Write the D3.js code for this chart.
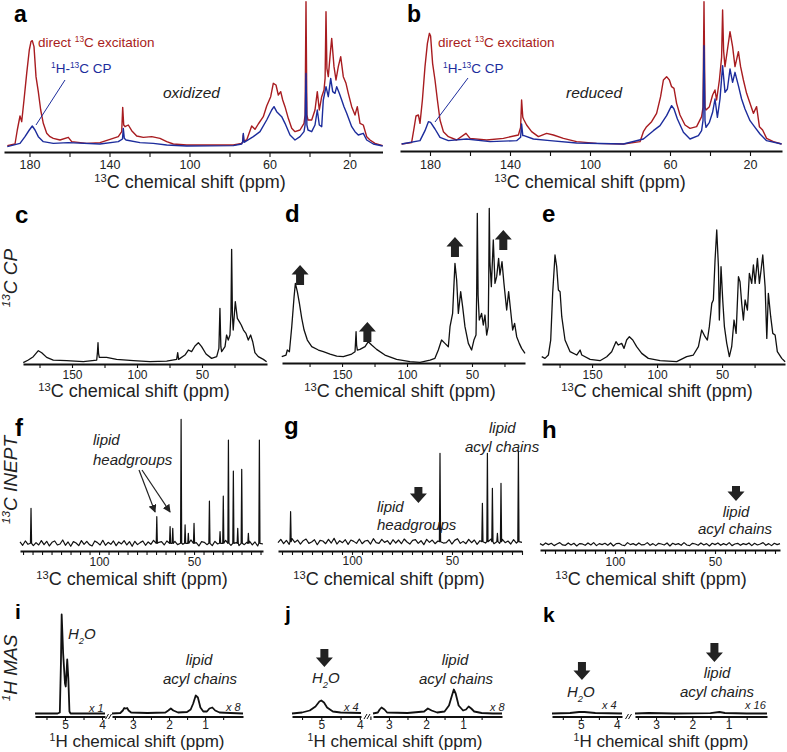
<!DOCTYPE html>
<html><head><meta charset="utf-8">
<script src="https://cdn.jsdelivr.net/npm/d3@7"></script>
<style>body{margin:0;background:#fff}svg{display:block}</style>
</head><body>
<svg id="chart" width="787" height="752"></svg>
<script>
// ===== DATA (ppm, intensity a.u.) =====
const redA = [[191.1,-2],[187.25,3],[186.1,45],[184.75,87],[183.9,70],[182.75,135],[181.4,215],[180.1,285],[179.25,310],[178.6,313],[177.75,295],[176.75,205],[175.6,160],[174.4,105],[173.1,65],[171.4,35],[169.75,25],[168.1,20],[164.75,15],[160.6,23],[158.9,10],[151.4,5],[144.75,7],[139.75,17],[135.6,25],[133.9,40],[133.4,113],[132.9,60],[132.25,55],[130.6,60],[128.9,43],[126.4,27],[123.1,23],[118.9,25],[114.75,20],[111.4,10],[108.1,3],[101.4,0],[78.1,0],[73.9,5],[73.4,10],[73.1,30],[72.8,12],[71.4,15],[68.9,57],[67.25,47],[65.6,63],[63.1,85],[61.4,117],[59.4,145],[58.1,185],[56.75,180],[55.6,150],[54.4,160],[53.4,135],[52.25,115],[50.6,80],[48.9,50],[47.25,40],[44.75,45],[42.75,65],[42.2,90],[41.75,430],[41.3,90],[40.75,75],[38.9,75],[37.25,105],[36.1,160],[35.1,105],[33.9,145],[32.75,165],[32.2,200],[31.75,400],[31.3,230],[30.6,205],[29.75,265],[28.9,320],[27.75,235],[26.75,195],[25.6,235],[24.4,265],[23.1,205],[21.75,185],[20.6,155],[18.9,115],[17.25,90],[16.1,115],[14.75,65],[13.1,60],[11.4,25],[9.75,15],[7.25,5],[3.4,-2]];
const blueA = [[191.1,-5],[184.75,5],[182.25,25],[180.1,45],[178.6,57],[177.25,45],[175.6,25],[173.1,10],[168.1,5],[160.6,7],[144.75,3],[135.6,10],[133.5,18],[133.1,50],[132.6,20],[131.75,15],[124.75,7],[118.1,5],[111.4,0],[101.4,-3],[78.1,-2],[73.9,3],[73.4,10],[73.1,35],[72.7,8],[68.1,25],[64.75,40],[61.4,75],[58.9,105],[57.75,115],[56.4,100],[53.9,85],[52.25,65],[49.75,30],[47.25,15],[44.75,25],[42.75,40],[42.2,60],[41.75,215],[41.3,60],[40.75,45],[38.9,40],[37.25,60],[36.1,105],[35.1,60],[33.9,55],[33.1,135],[31.75,175],[30.6,145],[29.4,200],[28.4,160],[27.25,155],[26.4,175],[25.1,155],[23.9,135],[22.75,115],[21.4,95],[18.9,55],[17.25,40],[15.6,30],[13.1,35],[11.4,15],[8.1,3],[3.4,-3]];
const redB = [[194.2,0],[189.2,4],[188,47],[187,84],[185.8,87],[185,62],[183.8,132],[182.5,232],[181.3,302],[180.3,332],[179.7,324],[178.7,242],[177.5,192],[176.3,132],[175,72],[173.3,37],[170.8,22],[166.7,12],[162,32],[160,17],[151.7,12],[143.3,17],[135.8,27],[134.7,50],[134.2,132],[133.6,80],[133,72],[131.7,57],[129.2,37],[125.8,22],[121.7,32],[118.3,27],[113.3,17],[106.7,7],[96.7,2],[83.3,0],[75,7],[73.3,37],[71.7,52],[69.2,67],[66.7,92],[64.7,142],[63.3,192],[61.7,202],[60.3,192],[59.2,172],[58,167],[56.7,122],[55,87],[52.5,57],[50,47],[46.7,52],[44.2,82],[43.5,110],[43,427],[42.5,110],[42,102],[40.3,112],[38.7,147],[37.5,162],[36.7,132],[35.3,192],[34.2,260],[33.7,402],[33.2,280],[32.5,232],[31.3,282],[30,337],[28.7,292],[27.5,232],[25.8,277],[24.7,232],[23.3,192],[21.7,152],[20,122],[18.3,92],[16.7,112],[15.3,52],[13.7,42],[11.7,17],[8.3,7],[4.2,0]];
const blueB = [[194.2,0],[185,10],[182.5,40],[180.8,67],[179.7,65],[177.5,45],[175,20],[170.8,10],[161.7,15],[150,7],[136.7,10],[134.7,20],[134.2,60],[133.6,25],[133,25],[128.3,15],[120,10],[106.7,3],[83.3,0],[73.3,15],[68.3,40],[65,55],[61.7,85],[59.2,115],[58,105],[56.3,75],[53.3,35],[50,15],[45.8,25],[44.2,40],[43.5,70],[43,295],[42.5,70],[42,50],[40.3,65],[38.7,95],[37.5,135],[36.3,80],[35,135],[33.7,235],[32.5,155],[31.3,165],[30,225],[28.7,185],[27.5,215],[25.8,175],[24.2,135],[22.5,105],[20,70],[17.5,50],[15,30],[11.7,10],[4.2,0]];
const cpC = [[187.5,-3],[183.6,5],[179.8,15],[175.9,33],[173.3,27],[169.5,13],[164.4,5],[154.1,3],[141.3,0],[131,5],[130.4,30],[130,57],[129.6,25],[129,13],[123.4,13],[115.7,7],[102.8,3],[90,0],[77.2,2],[69.5,7],[68.7,27],[68,7],[63.1,20],[60.5,35],[58,30],[55.4,47],[52.8,57],[50.3,45],[46.9,23],[42.6,10],[38.7,15],[37,40],[36.2,160],[35.5,45],[34.9,30],[32.3,45],[31.1,80],[29.8,65],[28.5,80],[27.7,150],[27.2,337],[26.6,140],[26,95],[24.4,180],[22.8,130],[21.3,120],[19.8,110],[18.1,95],[16.2,85],[14.4,65],[12.6,80],[11,60],[9.3,27],[6.7,15],[2.8,7],[0.3,0]];
const cpD = [[196.4,15],[193.1,20],[192.1,35],[190.5,30],[188.7,105],[186.9,195],[185.9,235],[184.4,210],[182.8,175],[181,130],[179.2,95],[176.7,65],[173.3,45],[168.2,35],[164.4,30],[159.2,23],[154.1,17],[149,15],[142.6,23],[140,30],[139.6,60],[139.2,90],[138.8,50],[138.2,35],[136.2,37],[132.3,45],[129.8,60],[127.2,50],[123.4,37],[117,20],[108,7],[97.7,0],[90,-2],[82.3,5],[78.5,10],[75.9,35],[73.4,65],[70.8,55],[68.2,45],[66.9,105],[64.9,145],[63.1,295],[61.8,245],[60.5,145],[58.7,210],[57.2,165],[55.4,105],[52.8,55],[50.3,35],[48.5,65],[46.9,80],[46.4,200],[45.9,445],[45.3,200],[44.4,125],[42.6,145],[41.3,110],[40,140],[38.7,80],[37.5,105],[37.1,250],[36.7,460],[36.2,300],[35.1,225],[33.6,365],[32.3,235],[31,255],[29.5,310],[28.5,260],[26.9,300],[25.4,235],[23.3,155],[21.8,210],[20.3,155],[18.7,95],[17.2,115],[15.6,75],[13.6,55],[11.8,40],[9.2,25]];
const cpE = [[188.7,15],[186.2,10],[183.6,20],[181.8,65],[180.3,205],[178.5,320],[177.2,285],[175.9,215],[174.6,210],[173.3,135],[170.8,65],[166.9,30],[161.8,20],[159.2,35],[157.9,20],[151.5,7],[143.9,3],[138.7,15],[134.9,30],[131.6,60],[129.8,50],[127.2,55],[125.4,40],[123.4,65],[121.3,75],[118.7,65],[115.7,45],[111.8,25],[106.7,10],[97.7,3],[84.9,0],[77.2,15],[72.1,20],[68.2,45],[65.7,95],[63.1,75],[61.3,65],[59.8,105],[57.9,175],[56.7,185],[55.4,305],[54.1,395],[52.8,285],[52.1,125],[50.8,285],[49.5,185],[48.2,105],[46.4,55],[44.4,15],[42.6,45],[40.8,125],[39.2,85],[37.4,255],[36.2,240],[34.9,175],[33.6,125],[32.3,185],[30.5,155],[29,265],[27.2,235],[25.9,290],[24.6,235],[22.8,310],[21.3,235],[20,275],[18.7,320],[16.9,225],[15.6,70],[14.4,205],[12.6,135],[11,85],[9.2,80],[7.5,30],[4.1,10],[1.5,0]];
const peaksF = [[135.8,105],[69.6,80],[62.6,50],[61.2,45],[56.8,372],[54.7,55],[53,30],[50,60],[41.9,127],[36.3,35],[34.6,142],[31.9,310],[29.3,217],[27,45],[24.9,222],[21.4,30],[15.6,310]];
const peaksG = [[130.7,90],[56,265],[34.8,115],[32.3,265],[29.8,160],[27.3,25],[25.5,175],[16.8,272]];
const peaksH = [];
const noiseF = [4,-6,7,-3,9,-7,2,-5,8,-4,6,-8,3,7,-5,-2,10,-6,4,-9,5,1,-7,8,-3,6,-4,-8,7,2,-5,9,-6,3,-3,7,-7,4,-2,8,-5,5,-9,6,-4,2,7,-6,4,-3,9,-8,3,5,-5,7,-2,-7,6,-4,8,-3,4,-6,10,-5,2,-8,5,3,-4,7,-7,6,-2,4,-5,9,-3,-6,5,2,-7,8,-4,3,6,-5,4,-8,7,-2];
const noiseG = [-3,7,-6,4,-8,9,-2,5,-7,3,8,-5,-1,6,-9,4,2,-6,7,-4,10,-7,3,-3,6,-8,5,1,-5,8,-6,2,4,-7,9,-3,-5,7,-2,3,-8,6,-4,5,-6,8,-1,-7,4,6,-5,3,-9,7,-2,5,-6,2,8,-4,-3,6,-7,4,9,-5,1,-6,7,-3,5,-8,3,6,-4,-2,8,-6,4,-5,7,-3,2,-7,6,-4,5,-2];
const noiseH = [2,-3,4,-1,3,-4,1,5,-2,-3,4,-2,3,-5,2,1,-3,4,-2,5,-4,2,-1,3,-3,4,-5,2,3,-2,-4,5,-1,2,-3,4,-2,-1,5,-3,2,-4,3,1,-2,4,-5,3,-1,2,-3,5,-2,-4,3,1,-3,4,-2,2,-5,3,-1,4,-3,2,-2,5,-4,1,3,-3,2,-1,4,-4,3,-2,1,5,-3,2,-4,3,-1,2];
const hI_left = [[5.81,0],[5.2,0],[5.14,1],[5.11,50],[5.09,99],[5.05,60],[5.0,30],[4.98,27],[4.96,40],[4.94,54],[4.91,35],[4.88,2],[4.85,0],[3.92,0]];
const hI_right = [[3.58,0],[3.35,0.5],[3.28,3],[3.24,5.5],[3.2,5],[3.16,5.5],[3.12,3],[3.05,1],[2.6,0.5],[2.1,1],[2.02,3],[1.95,5],[1.88,3],[1.75,1],[1.5,1.5],[1.4,4],[1.33,10],[1.26,18],[1.2,16],[1.13,6],[1.05,2],[0.95,2],[0.88,5],[0.8,6],[0.72,3],[0.6,1],[0.3,0.5],[-0.05,0]];
const hJ_left = [[5.76,0],[5.5,1],[5.3,3],[5.15,7],[5.05,12],[5.0,13],[4.93,11],[4.85,6],[4.7,2],[4.5,1],[3.97,0.5]];
const hJ_right = [[3.43,0],[3.3,1],[3.25,4],[3.2,6],[3.12,4],[3.05,1],[2.5,0.5],[2.05,2],[1.95,5],[1.85,3],[1.7,1],[1.5,2],[1.38,8],[1.3,18],[1.25,24],[1.2,20],[1.12,8],[1.0,3],[0.92,4],[0.85,7],[0.78,5],[0.7,2],[0.5,0.5],[0.2,0],[-0.05,0]];
const hK_left = [[5.8,0],[5.3,0.5],[5.05,1.5],[4.9,1.5],[4.6,0.5],[3.86,0]];
const hK_right = [[3.58,0],[3.2,0.5],[2.5,0],[1.5,0.3],[1.25,1.5],[1.1,0.5],[0.5,0],[-0.06,0]];
const ticksAB = [180,160,140,120,100,80,60,40,20], labelsAB = [180,140,100,60,20];
const ticksCP = [175,150,125,100,75,50,25], labelsCP = [150,100,50];
const labelsIN = [100,50];
const ticksHL = [5.5,5,4.5,4], labelsHL = [5,4];
const ticksHR = [3.5,3,2.5,2,1.5,1,0.5], labelsHR = [3,2,1];

// ===== DRAWING =====
const svg = d3.select("#chart");
const FONT = '"Liberation Sans", Arial, Helvetica, sans-serif';
const INK = "#111", TXT = "#222", RED = "#a81c20", BLUE = "#1c2c9c";

function drawAxis(x, yA, tv, lv, tl, ly, fs) {
  const ax = d3.axisBottom(x).tickValues(tv).tickSize(tl).tickSizeOuter(0)
    .tickFormat(d => lv.includes(d) ? String(d) : "");
  const g = svg.append("g").attr("transform", `translate(0,${yA})`).call(ax);
  g.select(".domain").attr("stroke", INK).attr("stroke-width", 2);
  g.selectAll(".tick line").attr("stroke", INK).attr("stroke-width", 1.1);
  g.selectAll(".tick text").filter(d => !lv.includes(d)).remove();
  g.selectAll(".tick text").attr("y", ly).attr("dy", null).attr("font-size", fs)
    .attr("font-family", FONT).attr("fill", TXT);
}
function rich(x, y, parts, fs, o = {}) {
  const t = svg.append("text").attr("x", x).attr("y", y).attr("font-size", fs)
    .attr("font-family", FONT).attr("fill", o.fill || TXT)
    .attr("text-anchor", o.anchor || "start").attr("font-style", o.italic ? "italic" : "normal")
    .attr("font-weight", o.bold ? "bold" : "normal");
  if (o.transform) t.attr("transform", o.transform);
  let cur = 0;
  parts.forEach(p => {
    const [s, k] = typeof p === "string" ? [p, null] : p;
    const target = k === "sup" ? -0.36 * fs : k === "sub" ? 0.3 * fs : 0;
    const ts = t.append("tspan").text(s).attr("dy", target - cur);
    if (k) ts.attr("font-size", fs * 0.62);
    cur = target;
  });
  return t;
}
function trace(data, x, y, color, w) {
  svg.append("path").datum(data)
    .attr("d", d3.line().x(d => x(d[0])).y(d => y(d[1])))
    .attr("fill", "none").attr("stroke", color).attr("stroke-width", w)
    .attr("stroke-linejoin", "round");
}
function blockArrow(cx, top, h, dir) {
  const hw = 8.5, sw = 4, hh = 9.5;
  let pts;
  if (dir === "up") pts = [[cx, top], [cx + hw, top + hh], [cx + sw, top + hh], [cx + sw, top + h], [cx - sw, top + h], [cx - sw, top + hh], [cx - hw, top + hh]];
  else { const b = top + h; pts = [[cx, b], [cx + hw, b - hh], [cx + sw, b - hh], [cx + sw, top], [cx - sw, top], [cx - sw, b - hh], [cx - hw, b - hh]]; }
  svg.append("polygon").attr("points", pts.map(p => p.join(",")).join(" ")).attr("fill", "#222");
}
function label(x, y, s, fs) { rich(x, y, [s], fs, { bold: true, fill: "#000" }); }
function title(cx, y, nuc, el, fs) { rich(cx, y, [[nuc, "sup"], el + " chemical shift (ppm)"], fs, { anchor: "middle" }); }
function ineptTrace(peaks, noise, dom) {
  const step = (dom[0] - dom[1]) / (noise.length - 1);
  const pts = noise.map((v, i) => [dom[0] - i * step, v])
    .filter(p => !peaks.some(q => Math.abs(q[0] - p[0]) < 0.6));
  peaks.forEach(([p, h]) => pts.push([p + 0.3, 0], [p, h], [p - 0.3, 0]));
  return pts.sort((a, b) => b[0] - a[0]);
}

// ---- Panel a ----
{
  const x = d3.scaleLinear().domain([192.75, 3.5]).range([4, 382.5]);
  const y = d3.scaleLinear().domain([0, 435]).range([145, 0]);
  trace(redA, x, y, RED, 1.4);
  trace(blueA, x, y, BLUE, 1.4);
  drawAxis(x, 152, ticksAB, labelsAB, 5, 16.5, 12.5);
  title(190, 188, "13", "C", 18);
  label(14, 22, "a", 23);
  rich(38, 47, ["direct ", ["13", "sup"], "C excitation"], 13.5, { fill: RED });
  rich(51, 73, [["1", "sup"], "H-", ["13", "sup"], "C CP"], 13.5, { fill: BLUE });
  svg.append("line").attr("x1", 65).attr("y1", 80).attr("x2", 36).attr("y2", 125).attr("stroke", BLUE).attr("stroke-width", 1);
  rich(163, 98, ["oxidized"], 15.5, { italic: true });
}
// ---- Panel b ----
{
  const x = d3.scaleLinear().domain([195, 4]).range([400, 782]);
  const y = d3.scaleLinear().domain([0, 432]).range([144, 0]);
  trace(redB, x, y, RED, 1.4);
  trace(blueB, x, y, BLUE, 1.4);
  drawAxis(x, 151, ticksAB, labelsAB, 5, 17.5, 12.5);
  title(590, 188, "13", "C", 18);
  label(407, 22, "b", 23);
  rich(438, 47, ["direct ", ["13", "sup"], "C excitation"], 13.5, { fill: RED });
  rich(443, 73, [["1", "sup"], "H-", ["13", "sup"], "C CP"], 13.5, { fill: BLUE });
  svg.append("line").attr("x1", 468).attr("y1", 78).attr("x2", 435).attr("y2", 122).attr("stroke", BLUE).attr("stroke-width", 1);
  rich(566, 98, ["reduced"], 15.5, { italic: true });
}
// ---- Row 2: c, d, e ----
const yCP = d3.scaleLinear().domain([0, 485]).range([361.7, 200]);
{
  const x = d3.scaleLinear().domain([187.7, 0]).range([23, 267]);
  trace(cpC, x, yCP, INK, 1.3);
  drawAxis(x, 364, ticksCP, labelsCP, 4, 14.5, 12);
  title(134, 397, "13", "C", 18);
  label(15, 223, "c", 24);
  rich(0, 0, [["13", "sup"], "C CP"], 19, { italic: true, anchor: "middle", transform: "translate(17,278) rotate(-90)" });
}
{
  const x = d3.scaleLinear().domain([196.2, 9.2]).range([282, 525]);
  trace(cpD, x, yCP, INK, 1.3);
  drawAxis(x, 363, ticksCP, labelsCP, 4, 15.5, 12);
  title(400, 397, "13", "C", 18);
  label(285, 222, "d", 24);
  [[182.3, 265], [130.5, 322], [63.1, 237], [25.9, 230]].forEach(([p, t]) => blockArrow(x(p), t, 20, "up"));
}
{
  const x = d3.scaleLinear().domain([188.5, 1.6]).range([542, 785]);
  trace(cpE, x, yCP, INK, 1.3);
  drawAxis(x, 364, ticksCP, labelsCP, 4, 14.5, 12);
  title(657, 397, "13", "C", 18);
  label(542, 222, "e", 24);
}
// ---- Row 3: f, g, h ----
{
  const dom = [141.6, 13.7];
  const x = d3.scaleLinear().domain(dom).range([20, 263]);
  const y = d3.scaleLinear().domain([0, 460]).range([543.3, 390]);
  trace(ineptTrace(peaksF, noiseF, dom), x, y, INK, 1.2);
  drawAxis(x, 551, d3.range(140, 14, -5), labelsIN, 4, 14.5, 12);
  title(132, 585, "13", "C", 18);
  label(15, 436, "f", 24);
  rich(0, 0, [["13", "sup"], "C INEPT"], 19, { italic: true, anchor: "middle", transform: "translate(17,480) rotate(-90)" });
  rich(93, 445, ["lipid"], 15, { italic: true });
  rich(93, 465, ["headgroups"], 15, { italic: true });
  const defs = svg.append("defs");
  defs.append("marker").attr("id", "ah").attr("viewBox", "0 0 10 10").attr("refX", 9).attr("refY", 5)
    .attr("markerWidth", 8).attr("markerHeight", 8).attr("markerUnits", "userSpaceOnUse").attr("orient", "auto")
    .append("path").attr("d", "M0,0 L10,5 L0,10 z").attr("fill", "#222");
  [[139, 70.5], [142, 62.6]].forEach(([sx, p]) => {
    svg.append("line").attr("x1", sx).attr("y1", 470).attr("x2", x(p)).attr("y2", 512)
      .attr("stroke", "#222").attr("stroke-width", 1.2).attr("marker-end", "url(#ah)");
  });
}
{
  const dom = [137, 15];
  const x = d3.scaleLinear().domain(dom).range([278, 522]);
  const y = d3.scaleLinear().domain([0, 455]).range([541.7, 390]);
  trace(ineptTrace(peaksG, noiseG, dom), x, y, INK, 1.2);
  drawAxis(x, 551, d3.range(135, 14, -5), labelsIN, 4, 14, 12);
  title(389, 585, "13", "C", 18);
  label(284, 434, "g", 24);
  blockArrow(x(66.8), 487, 16, "down");
  rich(377, 512, ["lipid"], 15, { italic: true });
  rich(377, 530, ["headgroups"], 15, { italic: true });
  rich(489, 433, ["lipid"], 15, { italic: true });
  rich(465, 452, ["acyl chains"], 15, { italic: true });
}
{
  const dom = [137.5, 17.5];
  const x = d3.scaleLinear().domain(dom).range([540, 780]);
  const y = d3.scaleLinear().domain([0, 463]).range([544.3, 390]);
  trace(ineptTrace(peaksH, noiseH, dom), x, y, INK, 1.2);
  drawAxis(x, 550, d3.range(135, 17, -5), labelsIN, 4, 15.5, 12);
  title(651, 585, "13", "C", 18);
  label(542, 438, "h", 24);
  blockArrow(x(39.5), 486, 15, "down");
  rich(736, 517, ["lipid"], 15, { italic: true, anchor: "middle" });
  rich(735, 534, ["acyl chains"], 15, { italic: true, anchor: "middle" });
}
// ---- Row 4: i, j, k ----
const yH = d3.scaleLinear().domain([0, 100]).range([713.5, 613.5]);
function hPanel(left, right, L, R, cx, tag, tagX, tagY) {
  const xl = d3.scaleLinear().domain(L[0]).range(L[1]);
  const xr = d3.scaleLinear().domain(R[0]).range(R[1]);
  trace(left, xl, yH, INK, 1.8);
  trace(right, xr, yH, INK, 1.8);
  drawAxis(xl, 716.5, ticksHL, labelsHL, 3.5, 12.5, 12);
  drawAxis(xr, 716.5, ticksHR, labelsHR, 3.5, 12.5, 12);
  const bx = (L[1][1] + R[1][0]) / 2;
  [-1.5, 1.5].forEach(o => svg.append("line").attr("x1", bx + o - 1.5).attr("y1", 719)
    .attr("x2", bx + o + 1.5).attr("y2", 714).attr("stroke", INK).attr("stroke-width", 1));
  title(cx, 747, "1", "H", 17);
  label(tagX, tagY, tag, 21);
  return [xl, xr];
}
{
  hPanel(hI_left, hI_right, [[5.81, 3.92], [35, 105]], [[3.58, -0.05], [112, 243]], 137, "i", 15, 619);
  rich(0, 0, [["1", "sup"], "H MAS"], 19, { italic: true, anchor: "middle", transform: "translate(17,668) rotate(-90)" });
  rich(68, 639, ["H", ["2", "sub"], "O"], 15, { italic: true });
  rich(199, 665, ["lipid"], 15, { italic: true, anchor: "middle" });
  rich(200, 684, ["acyl chains"], 15, { italic: true, anchor: "middle" });
  rich(89, 712, ["x 1"], 11, { italic: true });
  rich(226, 711, ["x 8"], 11, { italic: true });
}
{
  const [xl] = hPanel(hJ_left, hJ_right, [[5.76, 3.97], [292, 361]], [[3.43, -0.05], [373, 502]], 395, "j", 285, 621);
  blockArrow(xl(4.92), 649, 18, "down");
  rich(312, 683, ["H", ["2", "sub"], "O"], 15, { italic: true });
  rich(455, 665, ["lipid"], 15, { italic: true, anchor: "middle" });
  rich(456, 684, ["acyl chains"], 15, { italic: true, anchor: "middle" });
  rich(344, 711, ["x 4"], 11, { italic: true });
  rich(490, 711, ["x 8"], 11, { italic: true });
}
{
  const [xl, xr] = hPanel(hK_left, hK_right, [[5.8, 3.86], [552, 622]], [[3.58, -0.06], [635, 767]], 661, "k", 543, 622);
  blockArrow(xl(4.97), 662, 18, "down");
  blockArrow(xr(1.39), 643, 19, "down");
  rich(567, 697, ["H", ["2", "sub"], "O"], 15, { italic: true });
  rich(717, 678, ["lipid"], 15, { italic: true, anchor: "middle" });
  rich(717, 697, ["acyl chains"], 15, { italic: true, anchor: "middle" });
  rich(602, 709, ["x 4"], 11, { italic: true });
  rich(745, 709, ["x 16"], 11, { italic: true });
}
</script>
</body></html>
